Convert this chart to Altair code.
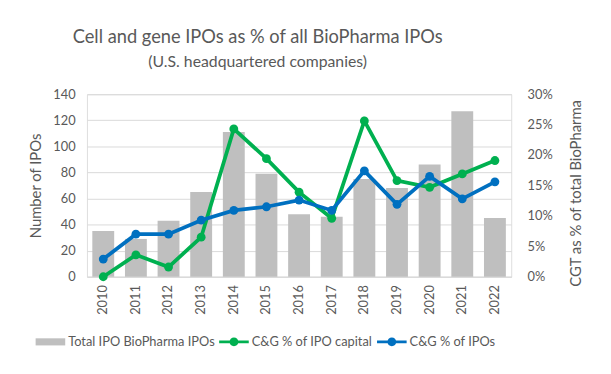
import altair as alt
import pandas as pd

years = [str(y) for y in range(2010, 2023)]
total_ipos = [35, 29, 43, 65, 111, 79, 48, 46, 75, 68, 86, 127, 45]
capital_pct = [0.0, 3.6, 1.6, 6.5, 24.3, 19.4, 13.9, 9.6, 25.6, 15.8, 14.7, 16.9, 19.1]
ipo_pct = [2.9, 7.0, 7.0, 9.3, 10.9, 11.5, 12.6, 10.9, 17.4, 11.9, 16.5, 12.8, 15.6]

s_bar = "Total IPO BioPharma IPOs"
s_cap = "C&G % of IPO capital"
s_ipo = "C&G % of IPOs"
series = [s_bar, s_cap, s_ipo]
colors = ["#BFBFBF", "#00B050", "#0070C0"]

bars_df = pd.DataFrame({"year": years, "count": total_ipos, "series": s_bar})
lines_df = pd.concat([
    pd.DataFrame({"year": years, "pct": [v / 100 for v in capital_pct], "series": s_cap, "ord": 1}),
    pd.DataFrame({"year": years, "pct": [v / 100 for v in ipo_pct], "series": s_ipo, "ord": 2}),
])

FONT = "Lato"
TXT = "#595959"

shape_expr = (
    "datum.value == '" + s_bar + "' ? 'M-1,-0.24H1V0.24H-1Z' : "
    "'M-1,-0.1H1V0.1H-1Z M0.3,0 A0.3,0.3 0 1,1 -0.3,0 A0.3,0.3 0 1,1 0.3,0Z'"
)

color = alt.Color(
    "series:N",
    scale=alt.Scale(domain=series, range=colors),
    legend=alt.Legend(
        title=None, orient="none", direction="horizontal",
        legendX=-52, legendY=236,
        labelFont=FONT, labelFontSize=13, labelColor=TXT,
        symbolSize=900, columnPadding=4, labelOffset=3,
        labelLimit=300,
        symbolType=alt.ExprRef(expr=shape_expr),
        symbolStrokeWidth=0,
        symbolOpacity=1,
    ),
)

x = alt.X(
    "year:N", title=None,
    scale=alt.Scale(paddingInner=0.33, paddingOuter=0.165),
    axis=alt.Axis(labelAngle=-90, labelFont=FONT, labelFontSize=13, labelColor=TXT,
                  ticks=False, domainColor="#D9D9D9", labelPadding=8,
                  labelBaseline="middle", labelAlign="right"),
)

bars = alt.Chart(bars_df).mark_bar(color="#BFBFBF").encode(
    x=x,
    y=alt.Y("count:Q", title="Number of IPOs",
            scale=alt.Scale(domain=[0, 140]),
            axis=alt.Axis(values=list(range(0, 141, 20)), labelFont=FONT, labelFontSize=13,
                          labelColor=TXT, titleFont=FONT, titleFontSize=15, titleColor=TXT,
                          titleFontWeight="normal", ticks=False, domain=False,
                          gridColor="#D9D9D9", labelPadding=12, titlePadding=9)),
    color=color,
)

lines = alt.Chart(lines_df).mark_line(
    strokeWidth=3.8,
    point=alt.OverlayMarkDef(filled=True, size=80, opacity=1),
).encode(
    x=x,
    y=alt.Y("pct:Q", title="CGT as % of total BioPharma",
            scale=alt.Scale(domain=[0, 0.3]),
            axis=alt.Axis(orient="right", values=[0, 0.05, 0.1, 0.15, 0.2, 0.25, 0.3],
                          format=".0%", grid=False, labelFont=FONT, labelFontSize=13,
                          labelColor=TXT, titleFont=FONT, titleFontSize=15, titleColor=TXT,
                          titleFontWeight="normal", titleAngle=270, titleBaseline="top",
                          titleY=100,
                          ticks=False, domain=False,
                          labelPadding=16, titlePadding=17)),
    color=color,
    order="ord:Q",
    detail="series:N",
)

chart = alt.layer(bars, lines).resolve_scale(y="independent").properties(
    width=430, height=185,
    autosize=alt.AutoSizeParams(type="none"),
    padding={"left": 80, "top": 85, "right": 93, "bottom": 81},
    title=alt.TitleParams(
        "Cell and gene IPOs as % of all BioPharma IPOs",
        subtitle="(U.S. headquartered companies)",
        font=FONT, fontSize=18.5, fontWeight="normal", color=TXT,
        subtitleFont=FONT, subtitleFontSize=16, subtitleColor=TXT,
        anchor="middle", dx=-42, offset=19, subtitlePadding=7,
    ),
).configure_view(stroke=None).configure(background="white")

chart.save("out.html", embed_options={"renderer": "svg", "actions": False})
